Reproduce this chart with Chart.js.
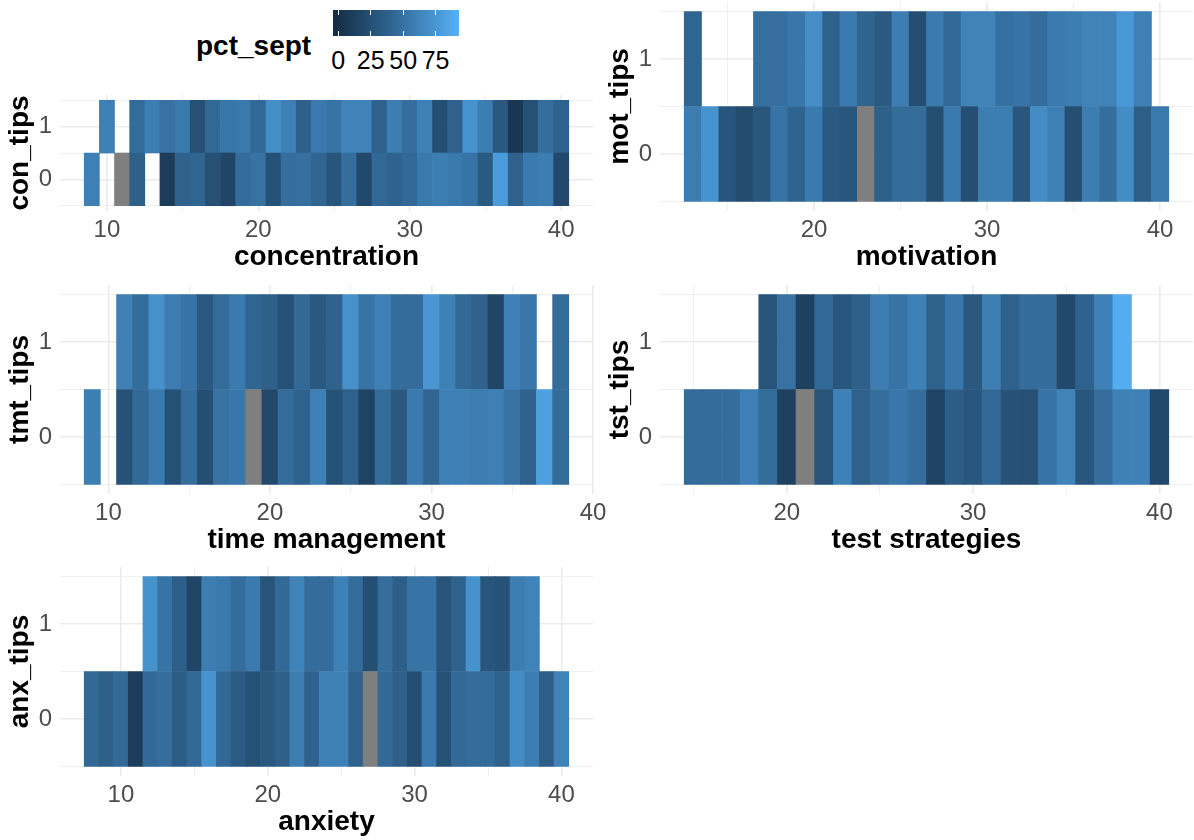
<!DOCTYPE html>
<html>
<head>
<meta charset="utf-8">
<script src="https://cdn.jsdelivr.net/npm/chart.js@4/dist/chart.umd.min.js"></script>
<style>
  body { margin: 0; background: #fff; width: 1194px; height: 840px; position: relative; overflow: hidden;
         font-family: "Liberation Sans", Arial, sans-serif; }
  .panel { position: absolute; }
  .leg { position: absolute; }
</style>
</head>
<body>
<div class="panel" style="left:0;top:93px;width:615px;height:181px"><canvas id="con"></canvas></div>
<div class="panel" style="left:600px;top:0;width:594px;height:274px"><canvas id="mot"></canvas></div>
<div class="panel" style="left:0;top:283px;width:615px;height:274px"><canvas id="tmt"></canvas></div>
<div class="panel" style="left:600px;top:283px;width:594px;height:274px"><canvas id="tst"></canvas></div>
<div class="panel" style="left:0;top:565px;width:615px;height:274px"><canvas id="anx"></canvas></div>
<div id="legend"></div>
<script>
// score on each scale (x) and pct_sept for tips = 0 / tips = 1 ; null = no tile, 'NA' = missing value
var conScore = [9,10,11,12,13,14,15,16,17,18,19,20,21,22,23,24,25,26,27,28,29,30,31,32,33,34,35,36,37,38,39,40];
var conTips1 = [null,60,null,45,58,50,55,25,43,53,55,43,70,60,37,56,51,62,62,38,58,47,60,24,38,73,58,31,5,26,47,38];
var conTips0 = [60,null,'NA',37,null,10,38,41,25,17,46,50,26,47,49,41,29,47,20,43,39,43,55,58,55,51,32,78,38,56,58,20];

var motScore = [13,14,15,16,17,18,19,20,21,22,23,24,25,26,27,28,29,30,31,32,33,34,35,36,37,38,39,40];
var motTips1 = [41,null,null,null,48,48,54,69,38,56,40,32,57,24,56,44,62,62,48,51,46,56,58,62,62,76,60,null];
var motTips0 = [57,73,29,22,30,51,40,56,32,30,'NA',37,45,45,24,56,24,58,58,30,68,60,24,58,47,68,36,55];

var tmtScore = [9,10,11,12,13,14,15,16,17,18,19,20,21,22,23,24,25,26,27,28,29,30,31,32,33,34,35,36,37,38];
var tmtTips1 = [null,null,61,46,71,57,51,31,45,56,41,37,26,44,31,38,71,51,60,46,46,75,61,44,38,17,60,54,null,45];
var tmtTips0 = [59,null,27,44,56,26,47,24,50,54,'NA',20,46,38,60,26,38,15,45,31,56,41,60,60,57,60,50,38,82,45];

var tstScore = [15,16,17,18,19,20,21,22,23,24,25,26,27,28,29,30,31,32,33,34,35,36,37,38,39,40];
var tstTips1 = [null,null,null,null,28,50,14,43,30,37,57,51,61,38,54,31,59,38,46,46,20,38,61,90,null,null];
var tstTips0 = [45,45,47,60,45,14,'NA',28,61,38,47,54,47,15,35,30,43,27,25,51,62,30,47,61,61,20];

var anxScore = [8,9,10,11,12,13,14,15,16,17,18,19,20,21,22,23,24,25,26,27,28,29,30,31,32,33,34,35,36,37,38,39,40];
var anxTips1 = [null,null,null,null,72,51,36,17,58,55,46,56,28,44,62,46,46,61,45,24,47,36,51,51,28,38,72,29,27,58,62,null,null];
var anxTips0 = [43,37,44,10,44,47,35,44,73,43,33,26,31,37,58,38,61,61,38,'NA',44,37,24,56,27,44,45,45,38,68,58,36,62];

var yTicks = [0, 1];
var legendTicks = [0, 25, 50, 75];

var LOW = '#132B43', HIGH = '#56B1F7', NA_COLOR = '#7F7F7F', GRID = '#EBEBEB';
var colorLimits = [-4, 93];

// Lab interpolation like ggplot's gradient
function hexToRgb(h) { return [1, 3, 5].map(function (i) { return parseInt(h.slice(i, i + 2), 16); }); }
function toLin(c) { c /= 255; return c <= 0.04045 ? c / 12.92 : Math.pow((c + 0.055) / 1.055, 2.4); }
function fromLin(c) {
    c = c <= 0.0031308 ? 12.92 * c : 1.055 * Math.pow(c, 1 / 2.4) - 0.055;
    return Math.round(Math.max(0, Math.min(1, c)) * 255);
}
function rgbToLab(rgb) {
    var l = rgb.map(toLin);
    var X = (0.4124 * l[0] + 0.3576 * l[1] + 0.1805 * l[2]) / 0.95047;
    var Y = (0.2126 * l[0] + 0.7152 * l[1] + 0.0722 * l[2]);
    var Z = (0.0193 * l[0] + 0.1192 * l[1] + 0.9505 * l[2]) / 1.08883;
    var f = function (t) { return t > 0.008856 ? Math.cbrt(t) : 7.787 * t + 16 / 116; };
    return [116 * f(Y) - 16, 500 * (f(X) - f(Y)), 200 * (f(Y) - f(Z))];
}
function labToRgb(lab) {
    var fy = (lab[0] + 16) / 116, fx = fy + lab[1] / 500, fz = fy - lab[2] / 200;
    var finv = function (t) { return t * t * t > 0.008856 ? t * t * t : (t - 16 / 116) / 7.787; };
    var X = finv(fx) * 0.95047, Y = finv(fy), Z = finv(fz) * 1.08883;
    return [fromLin(3.2406 * X - 1.5372 * Y - 0.4986 * Z),
            fromLin(-0.9689 * X + 1.8758 * Y + 0.0415 * Z),
            fromLin(0.0557 * X - 0.2040 * Y + 1.0570 * Z)];
}
var labLow = rgbToLab(hexToRgb(LOW)), labHigh = rgbToLab(hexToRgb(HIGH));
function gradientAt(t) {
    var lab = labLow.map(function (v, i) { return v + (labHigh[i] - v) * t; });
    var c = labToRgb(lab);
    return 'rgb(' + c.join(',') + ')';
}
function tileColor(v) {
    if (v === 'NA') return NA_COLOR;
    var t = (v - colorLimits[0]) / (colorLimits[1] - colorLimits[0]);
    return gradientAt(Math.max(0, Math.min(1, t)));
}

Chart.defaults.font.family = '"Liberation Sans", Arial, sans-serif';

function drawPanel(canvasId, scores, tips0, tips1, xTitle, yTitle, padRight) {
    var cells = [];
    scores.forEach(function (x, i) {
        if (tips1[i] !== null) cells.push({x: [x - 0.5, x + 0.5], y: 1, v: tips1[i]});
        if (tips0[i] !== null) cells.push({x: [x - 0.5, x + 0.5], y: 0, v: tips0[i]});
    });
    var lo = scores[0] - 0.5, hi = scores[scores.length - 1] + 0.5;
    var pad = 0.05 * (hi - lo);

    new Chart(document.getElementById(canvasId), {
        type: 'bar',
        data: {
            datasets: [{
                data: cells,
                backgroundColor: function (ctx) { return ctx.raw ? tileColor(ctx.raw.v) : NA_COLOR; },
                borderWidth: 0,
                barPercentage: 1,
                categoryPercentage: 1
            }]
        },
        options: {
            indexAxis: 'y',
            responsive: true,
            maintainAspectRatio: false,
            animation: false,
            layout: { padding: { top: 2, right: padRight, left: 0, bottom: 0 }, autoPadding: false },
            plugins: { legend: { display: false }, tooltip: { enabled: false } },
            scales: {
                x: {
                    type: 'linear',
                    min: lo - pad,
                    max: hi + pad,
                    offset: false,
                    border: { display: false },
                    grid: {
                        color: GRID,
                        offset: false,
                        drawTicks: false,
                        lineWidth: function (c) { return c.tick && c.tick.value % 10 === 0 ? 1.6 : 0.8; }
                    },
                    ticks: {
                        stepSize: 5, includeBounds: false, autoSkip: false, maxRotation: 0,
                        padding: 5, color: '#4D4D4D', font: { size: 24 },
                        callback: function (v) { return v % 10 === 0 ? v : ''; }
                    },
                    title: { display: true, text: xTitle, color: '#000', font: { size: 28, weight: 'bold' }, padding: 0 },
                    afterFit: function (s) { s.height = 63; s.paddingLeft = 0; s.paddingRight = 0; }
                },
                y: {
                    type: 'linear',
                    position: 'left',
                    min: -0.6,
                    max: 1.6,
                    offset: false,
                    border: { display: false },
                    grid: { display: false, offset: false, drawTicks: false },
                    ticks: {
                        stepSize: 1, includeBounds: false, padding: 8, color: '#4D4D4D', font: { size: 24 },
                        callback: function (v) { return yTicks.indexOf(v) >= 0 ? String(v) : ''; }
                    },
                    title: { display: true, text: yTitle, color: '#000', font: { size: 28, weight: 'bold' }, padding: { top: 3.5, bottom: 0 } },
                    afterFit: function (s) { s.width = 60; s.paddingTop = 0; s.paddingBottom = 0; }
                },
                yGrid: {
                    type: 'linear',
                    position: 'left',
                    min: -0.6,
                    max: 1.6,
                    offset: false,
                    border: { display: false },
                    grid: {
                        color: GRID,
                        offset: false,
                        drawTicks: false,
                        lineWidth: function (c) { return c.tick && Number.isInteger(c.tick.value) ? 1.6 : 0.8; }
                    },
                    ticks: { display: false, stepSize: 0.5, includeBounds: false },
                    afterFit: function (s) { s.width = 0; s.paddingTop = 0; s.paddingBottom = 0; }
                }
            }
        }
    });
}

drawPanel('con', conScore, conTips0, conTips1, 'concentration', 'con_tips', 22);
drawPanel('mot', motScore, motTips0, motTips1, 'motivation', 'mot_tips', 1);
drawPanel('tmt', tmtScore, tmtTips0, tmtTips1, 'time management', 'tmt_tips', 22);
drawPanel('tst', tstScore, tstTips0, tstTips1, 'test strategies', 'tst_tips', 1);
drawPanel('anx', anxScore, anxTips0, anxTips1, 'anxiety', 'anx_tips', 22);

// colour bar legend
(function () {
    var leg = document.getElementById('legend');
    var barLeft = 333, barTop = 10, barW = 126, barH = 26;
    var stops = [];
    for (var i = 0; i <= 20; i++) stops.push(gradientAt(i / 20) + ' ' + (i * 5) + '%');
    var html = '<div class="leg" style="left:196px;top:30px;height:32px;line-height:32px;font-size:28px;font-weight:bold;color:#000">pct_sept</div>';
    html += '<div class="leg" style="left:' + barLeft + 'px;top:' + barTop + 'px;width:' + barW + 'px;height:' + barH +
            'px;background:linear-gradient(to right,' + stops.join(',') + ')"></div>';
    legendTicks.forEach(function (v) {
        var x = barLeft + (v - colorLimits[0]) / (colorLimits[1] - colorLimits[0]) * barW;
        html += '<div class="leg" style="left:' + (x - 0.6) + 'px;top:' + barTop + 'px;width:1.2px;height:5px;background:#fff"></div>';
        html += '<div class="leg" style="left:' + (x - 0.6) + 'px;top:' + (barTop + barH - 5) + 'px;width:1.2px;height:5px;background:#fff"></div>';
        html += '<div class="leg" style="left:' + (x - 30) + 'px;top:45px;width:60px;text-align:center;height:30px;line-height:30px;font-size:25px;color:#000">' + v + '</div>';
    });
    leg.innerHTML = html;
})();
</script>
</body>
</html>
